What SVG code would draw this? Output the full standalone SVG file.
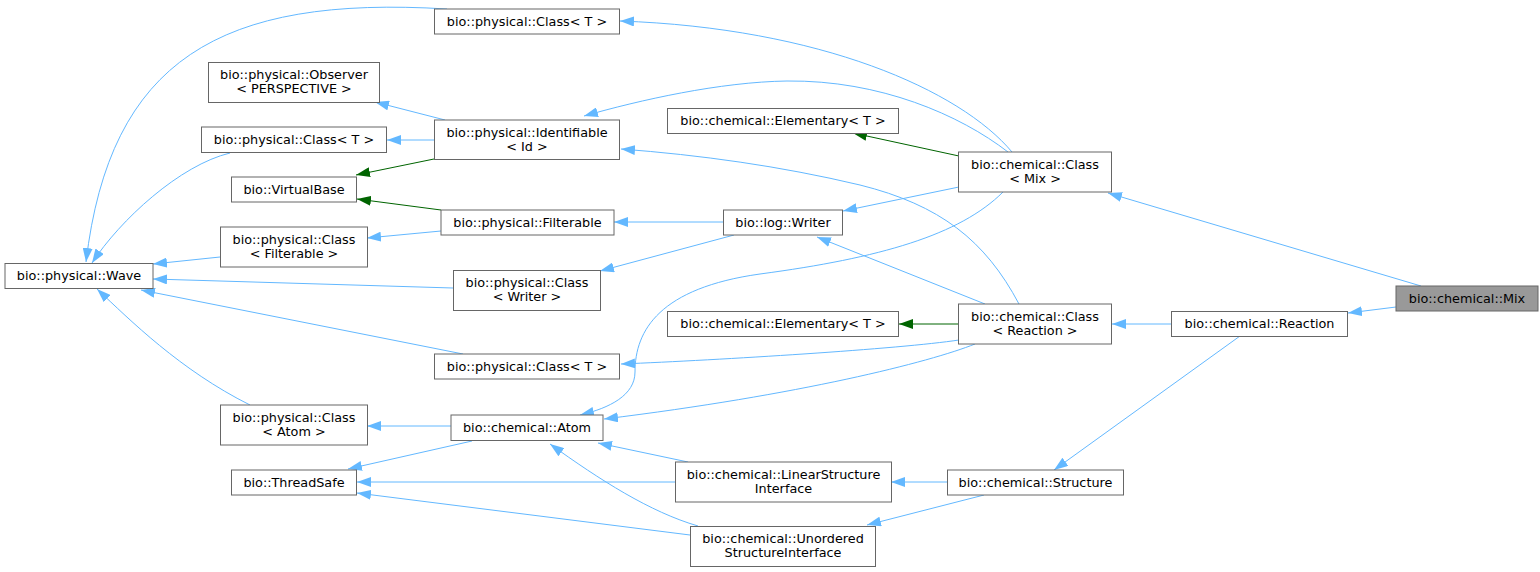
<svg xmlns="http://www.w3.org/2000/svg" width="1540" height="572" viewBox="0 0 1540 572">
<style>
.n rect{fill:#fff;stroke:#666;stroke-width:1}
.n text{font-family:"DejaVu Sans",sans-serif;font-size:12.8px;fill:#000;text-anchor:middle}
#mix rect{fill:#999}
.e path{fill:none;stroke-width:1}
.b{stroke:#63b8ff;marker-end:url(#ab)}
.g{stroke:#006400;marker-end:url(#ag)}
</style>
<defs>
<marker id="ab" markerUnits="userSpaceOnUse" viewBox="0 0 14 10" markerWidth="14" markerHeight="10" refX="14" refY="5" orient="auto"><path d="M0,0 L14,5 L0,10 z" fill="#63b8ff"/></marker>
<marker id="ag" markerUnits="userSpaceOnUse" viewBox="0 0 14 10" markerWidth="14" markerHeight="10" refX="14" refY="5" orient="auto"><path d="M0,0 L14,5 L0,10 z" fill="#006400"/></marker>
</defs>
<rect width="1540" height="572" fill="#fff"/>
<g id="edges" class="e">
<path class="b" d="M1421,286 L1108,193"/>
<path class="b" d="M1396,307 L1348,313"/>
<path class="b" d="M1171,324 L1112,324"/>
<path class="b" d="M1240,336 L1054,470"/>
<path class="b" d="M1012,152 C960,90 820,28 620,21"/>
<path class="b" d="M1008,152 C960,115 880,80 787,81 C720,82 640,100 584,116"/>
<path class="g" d="M959,156 L853,133"/>
<path class="b" d="M959,187 L843,211"/>
<path class="b" d="M1003,192 C960,235 880,258 760,274 C660,288 635,330 635,372 C635,395 610,408 580,415"/>
<path class="b" d="M1019,304 C985,240 940,205 860,185 C780,166 700,155 621,149"/>
<path class="b" d="M985,304 L817,237"/>
<path class="g" d="M959,324 L899,324"/>
<path class="b" d="M959,340 C900,349 720,360 621,364"/>
<path class="b" d="M975,344 C930,362 800,395 604,419"/>
<path class="b" d="M445,120 L375,102"/>
<path class="b" d="M434,140 L387,140"/>
<path class="g" d="M434,159 L356,175"/>
<path class="g" d="M441,210 L357,199"/>
<path class="b" d="M441,231 L367,238"/>
<path class="b" d="M723,222 L614,222"/>
<path class="b" d="M734,235 L600,271"/>
<path class="b" d="M447,9 C220,-5 110,60 86,262"/>
<path class="b" d="M230,153 C180,165 120,220 92,263"/>
<path class="b" d="M220,257 L153,264"/>
<path class="b" d="M453,288 L153,279"/>
<path class="b" d="M463,354 L141,290"/>
<path class="b" d="M250,405 C180,370 130,320 97,289"/>
<path class="b" d="M451,426 L367,426"/>
<path class="b" d="M472,441 L348,469"/>
<path class="b" d="M688,462 L598,443"/>
<path class="b" d="M675,482 L357,482"/>
<path class="b" d="M698,526 C650,512 600,480 550,444"/>
<path class="b" d="M690,535 L357,493"/>
<path class="b" d="M947,482 L891,482"/>
<path class="b" d="M984,495 L867,525"/>
</g>
<g id="mix" class="n"><rect x="1396" y="286" width="142" height="25"/><text x="1467" y="302.5">bio::chemical::Mix</text></g>
<g id="reaction" class="n"><rect x="1171.5" y="311.5" width="176" height="25"/><text x="1259.5" y="327.5">bio::chemical::Reaction</text></g>
<g id="classMix" class="n"><rect x="958.5" y="152" width="153" height="40"/><text x="1035" y="168.5">bio::chemical::Class</text><text x="1035" y="182.5">&lt; Mix &gt;</text></g>
<g id="classReaction" class="n"><rect x="958.5" y="304" width="153" height="40"/><text x="1035" y="320.5">bio::chemical::Class</text><text x="1035" y="334.5">&lt; Reaction &gt;</text></g>
<g id="structure" class="n"><rect x="947.5" y="470" width="176" height="25"/><text x="1035.5" y="486.5">bio::chemical::Structure</text></g>
<g id="elementary1" class="n"><rect x="667.5" y="108.5" width="231" height="25"/><text x="783" y="124.5">bio::chemical::Elementary&lt; T &gt;</text></g>
<g id="elementary2" class="n"><rect x="667.5" y="311.5" width="231" height="25"/><text x="783" y="327.5">bio::chemical::Elementary&lt; T &gt;</text></g>
<g id="logWriter" class="n"><rect x="723.5" y="210" width="119" height="25"/><text x="783" y="226.5">bio::log::Writer</text></g>
<g id="lsi" class="n"><rect x="675.5" y="462" width="216" height="40"/><text x="783.5" y="478.5">bio::chemical::LinearStructure</text><text x="783.5" y="492.5">Interface</text></g>
<g id="usi" class="n"><rect x="690.5" y="526.5" width="185" height="40"/><text x="783" y="543">bio::chemical::Unordered</text><text x="783" y="557">StructureInterface</text></g>
<g id="classTtop" class="n"><rect x="434.5" y="9" width="185" height="25"/><text x="527" y="25.5">bio::physical::Class&lt; T &gt;</text></g>
<g id="identifiable" class="n"><rect x="434.5" y="120" width="185" height="39.5"/><text x="527" y="136.5">bio::physical::Identifiable</text><text x="527" y="150.5">&lt; Id &gt;</text></g>
<g id="filterable" class="n"><rect x="441" y="210" width="173" height="25"/><text x="527.5" y="226.5">bio::physical::Filterable</text></g>
<g id="classWriter" class="n"><rect x="453.5" y="270.5" width="147" height="40"/><text x="527" y="287">bio::physical::Class</text><text x="527" y="301">&lt; Writer &gt;</text></g>
<g id="classT3" class="n"><rect x="434.5" y="354" width="185" height="25"/><text x="527" y="370.5">bio::physical::Class&lt; T &gt;</text></g>
<g id="atom" class="n"><rect x="451" y="415" width="152" height="25.5"/><text x="527" y="431.5">bio::chemical::Atom</text></g>
<g id="observer" class="n"><rect x="208.5" y="62.5" width="171" height="40"/><text x="294" y="79">bio::physical::Observer</text><text x="294" y="93">&lt; PERSPECTIVE &gt;</text></g>
<g id="classT2" class="n"><rect x="201.5" y="127" width="185" height="25.5"/><text x="294" y="143.5">bio::physical::Class&lt; T &gt;</text></g>
<g id="virtualBase" class="n"><rect x="231.5" y="177" width="125" height="25"/><text x="294" y="193.5">bio::VirtualBase</text></g>
<g id="classFilterable" class="n"><rect x="220.5" y="227" width="147" height="40"/><text x="294" y="243.5">bio::physical::Class</text><text x="294" y="257.5">&lt; Filterable &gt;</text></g>
<g id="classAtom" class="n"><rect x="220.5" y="405" width="147" height="40"/><text x="294" y="421.5">bio::physical::Class</text><text x="294" y="435.5">&lt; Atom &gt;</text></g>
<g id="threadSafe" class="n"><rect x="231.5" y="470" width="125" height="25"/><text x="294" y="486.5">bio::ThreadSafe</text></g>
<g id="wave" class="n"><rect x="5" y="263.5" width="148" height="25"/><text x="79" y="280">bio::physical::Wave</text></g>
</svg>
